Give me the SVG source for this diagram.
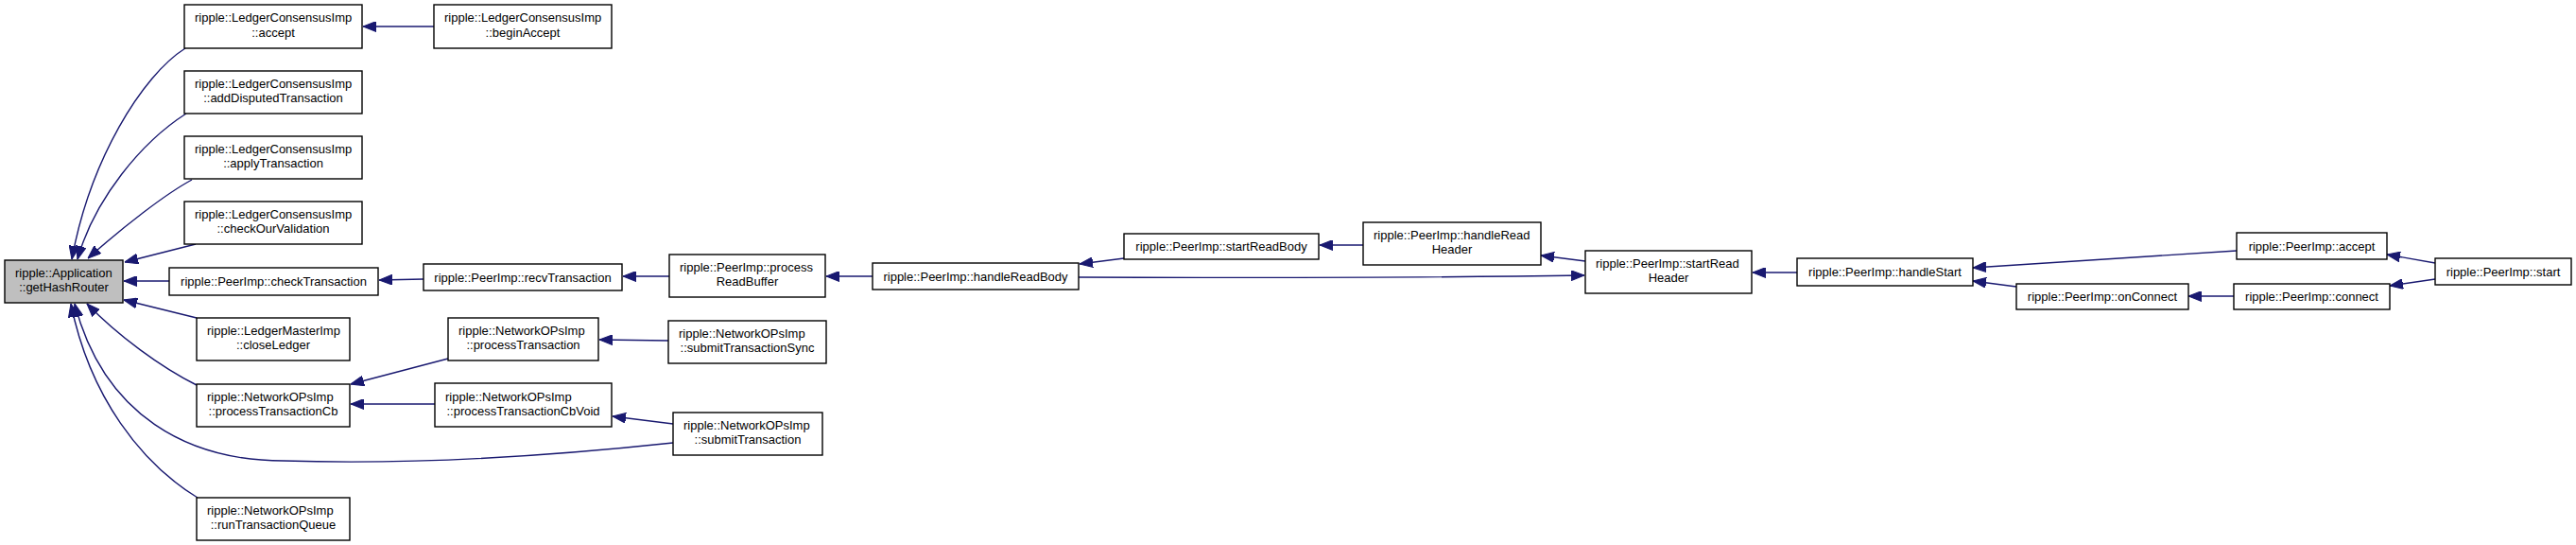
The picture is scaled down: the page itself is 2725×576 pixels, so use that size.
<svg xmlns="http://www.w3.org/2000/svg" width="2725" height="576" viewBox="0 0 2725 576">
<style>
.n rect{fill:#ffffff;stroke:#000000;stroke-width:1.4}
.n.cur rect{fill:#bfbfbf}
.n text{font-family:"Liberation Sans",Arial,Helvetica,sans-serif;font-size:13px;fill:#000000}
.n text.l{text-anchor:start}
.n text.c{text-anchor:middle}
#edges path{fill:none;stroke:#191970;stroke-width:1.4;marker-end:url(#ah)}
</style>
<defs>
<marker id="ah" markerUnits="userSpaceOnUse" markerWidth="14" markerHeight="11" viewBox="0 0 13 10" refX="13" refY="5" orient="auto">
<path d="M0,0 L13,5 L0,10 z" fill="#191970" stroke="#191970" stroke-width="1"/>
</marker>
</defs>
<rect x="0" y="0" width="2725" height="576" fill="#ffffff"/>
<g id="edges">
<path d="M196,51 C150,80 95,170 76,274"/>
<path d="M197,120 C150,150 100,210 82,274"/>
<path d="M203,190 C175,205 130,240 93,273"/>
<path d="M207,258 L132,277"/>
<path d="M179,297 L131,297"/>
<path d="M208,336 L131,317"/>
<path d="M208,407 C170,388 125,355 92,321"/>
<path d="M712,468 C600,480 450,492 300,487 C200,487 110,440 79,321"/>
<path d="M209,526 C150,490 95,420 75,321"/>
<path d="M459,28 L384,28"/>
<path d="M448,295 L401,296"/>
<path d="M708,292 L659,292"/>
<path d="M923,292 L874,292"/>
<path d="M1189,273 L1142,279"/>
<path d="M1442,259 L1396,259"/>
<path d="M1677,276 L1630,270"/>
<path d="M1141,293 C1400,294 1550,293 1676,291"/>
<path d="M1901,288 L1854,288"/>
<path d="M2366,265 L2087,283"/>
<path d="M2133,303 L2087,297"/>
<path d="M2363,313 L2315,313"/>
<path d="M2576,278 L2525,269"/>
<path d="M2576,295 L2528,302"/>
<path d="M474,379 L371,406"/>
<path d="M460,427 L371,427"/>
<path d="M707,360 L634,359"/>
<path d="M712,448 L648,440"/>
</g>
<g id="n0" class="n cur"><rect x="5" y="275" width="125" height="45"/><text class="l" x="16" y="293">ripple::Application</text><text class="c" x="67.5" y="308">::getHashRouter</text></g>
<g id="n1" class="n"><rect x="195" y="5" width="188" height="46"/><text class="l" x="206" y="23">ripple::LedgerConsensusImp</text><text class="c" x="289" y="38.5">::accept</text></g>
<g id="n2" class="n"><rect x="459" y="5" width="188" height="46"/><text class="l" x="470" y="23">ripple::LedgerConsensusImp</text><text class="c" x="553" y="38.5">::beginAccept</text></g>
<g id="n3" class="n"><rect x="195" y="75" width="188" height="45"/><text class="l" x="206" y="93">ripple::LedgerConsensusImp</text><text class="c" x="289" y="108">::addDisputedTransaction</text></g>
<g id="n4" class="n"><rect x="195" y="144" width="188" height="45"/><text class="l" x="206" y="162">ripple::LedgerConsensusImp</text><text class="c" x="289" y="177">::applyTransaction</text></g>
<g id="n5" class="n"><rect x="195" y="213" width="188" height="45"/><text class="l" x="206" y="231">ripple::LedgerConsensusImp</text><text class="c" x="289" y="246">::checkOurValidation</text></g>
<g id="n6" class="n"><rect x="179" y="283" width="221" height="29"/><text class="c" x="289.5" y="302">ripple::PeerImp::checkTransaction</text></g>
<g id="n7" class="n"><rect x="208" y="336" width="162" height="45"/><text class="l" x="219" y="354">ripple::LedgerMasterImp</text><text class="c" x="289" y="369">::closeLedger</text></g>
<g id="n8" class="n"><rect x="208" y="406" width="162" height="45"/><text class="l" x="219" y="424">ripple::NetworkOPsImp</text><text class="c" x="289" y="439">::processTransactionCb</text></g>
<g id="n9" class="n"><rect x="208" y="526" width="162" height="45"/><text class="l" x="219" y="544">ripple::NetworkOPsImp</text><text class="c" x="289" y="559">::runTransactionQueue</text></g>
<g id="n10" class="n"><rect x="448" y="279" width="210" height="28"/><text class="c" x="553" y="297.5">ripple::PeerImp::recvTransaction</text></g>
<g id="n11" class="n"><rect x="474" y="336" width="159" height="45"/><text class="l" x="485" y="354">ripple::NetworkOPsImp</text><text class="c" x="553.5" y="369">::processTransaction</text></g>
<g id="n12" class="n"><rect x="460" y="405" width="187" height="46"/><text class="l" x="471" y="423.5">ripple::NetworkOPsImp</text><text class="c" x="553.5" y="438.5">::processTransactionCbVoid</text></g>
<g id="n13" class="n"><rect x="708" y="269" width="165" height="45"/><text class="l" x="719" y="287">ripple::PeerImp::process</text><text class="c" x="790.5" y="302">ReadBuffer</text></g>
<g id="n14" class="n"><rect x="707" y="339" width="167" height="45"/><text class="l" x="718" y="357">ripple::NetworkOPsImp</text><text class="c" x="790.5" y="372">::submitTransactionSync</text></g>
<g id="n15" class="n"><rect x="712" y="436" width="158" height="45"/><text class="l" x="723" y="454">ripple::NetworkOPsImp</text><text class="c" x="791" y="469">::submitTransaction</text></g>
<g id="n16" class="n"><rect x="923" y="278" width="218" height="28"/><text class="c" x="1032" y="296.5">ripple::PeerImp::handleReadBody</text></g>
<g id="n17" class="n"><rect x="1189" y="247" width="206" height="27"/><text class="c" x="1292" y="265">ripple::PeerImp::startReadBody</text></g>
<g id="n18" class="n"><rect x="1442" y="235" width="188" height="45"/><text class="l" x="1453" y="253">ripple::PeerImp::handleRead</text><text class="c" x="1536" y="268">Header</text></g>
<g id="n19" class="n"><rect x="1677" y="265" width="176" height="45"/><text class="l" x="1688" y="283">ripple::PeerImp::startRead</text><text class="c" x="1765" y="298">Header</text></g>
<g id="n20" class="n"><rect x="1901" y="273" width="186" height="29"/><text class="c" x="1994" y="292">ripple::PeerImp::handleStart</text></g>
<g id="n21" class="n"><rect x="2133" y="300" width="182" height="27"/><text class="c" x="2224" y="318">ripple::PeerImp::onConnect</text></g>
<g id="n22" class="n"><rect x="2366" y="246" width="159" height="28"/><text class="c" x="2445.5" y="264.5">ripple::PeerImp::accept</text></g>
<g id="n23" class="n"><rect x="2363" y="300" width="165" height="27"/><text class="c" x="2445.5" y="318">ripple::PeerImp::connect</text></g>
<g id="n24" class="n"><rect x="2576" y="273" width="144" height="28"/><text class="c" x="2648" y="291.5">ripple::PeerImp::start</text></g>
</svg>
